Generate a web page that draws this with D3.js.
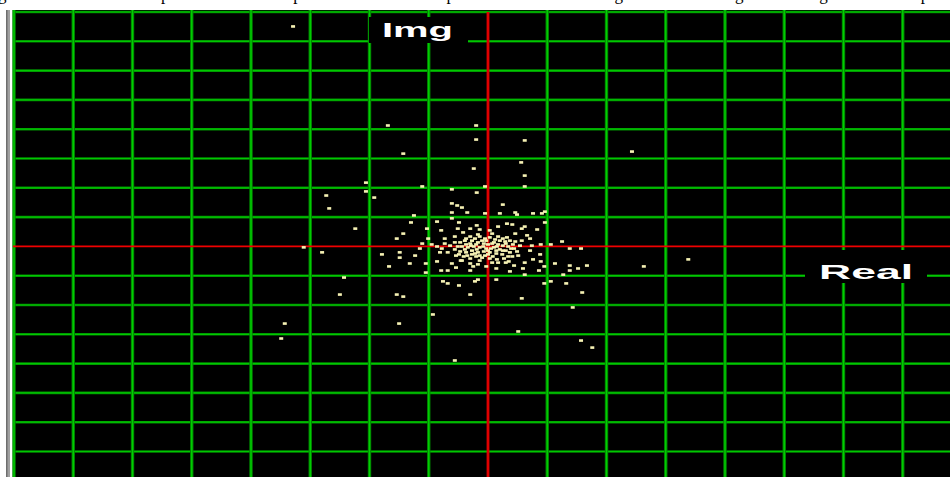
<!DOCTYPE html>
<html>
<head>
<meta charset="utf-8">
<script src="https://cdn.jsdelivr.net/npm/d3@7"></script>
<style>
  html, body { margin: 0; padding: 0; background: #fff; overflow: hidden; }
</style>
</head>
<body>
<div id="chart"></div>
<script>
// grid divisions (real / imaginary), one line per unit
var gridReal = [-8, -7, -6, -5, -4, -3, -2, -1, 0, 1, 2, 3, 4, 5, 6, 7];
var gridImg = [8, 7, 6, 5, 4, 3, 2, 1, 0, -1, -2, -3, -4, -5, -6, -7];
var axisLabels = ["Img", "Real"];
var captionText = "gnal is shown with the power of each sample in the real axis as positive because the length of the vector gives its magnitude in the plot";

// constellation samples, in grid units
var realVals = [
  -3.29, -1.69, -0.20, -0.20, -1.43, 2.43, 0.62, 0.56, 0.62, -0.24, 0.62, -2.06, -2.06, -1.92, -1.11, -2.73,
  -2.68, -2.24, -3.11, -2.80, -2.43, -2.50, -3.43, -3.49, -1.50, -0.93, -0.56, 0.51, 1.57, 1.76, 1.43, 1.59,
  0.57, 2.63, 3.38, -1.54, -1.43, -0.30,
  -0.05, -0.19, -0.61, -0.61, -0.52, -0.44, -0.35, -0.61, 0.25, -0.05, 0.20, 0.46, 0.49, 0.76, 0.91, 0.96, -1.25,
  -0.61, -1.30, -0.86, -0.49, 0.96, -1.03, 0.32, 0.41, 0.62, 0.57, 0.83, 0.46, 0.66, 0.71, 0.32, -0.19, -0.14,
  -0.30, 0.03, 0.17, -0.42, -0.56, -0.73, -0.79, -1.43, -1.54, -1.11, 1.25,
  -0.30, -0.22, -0.14, -0.05, 0.03, 0.12, 0.20, 0.29, -0.39, -0.47, -0.30, -0.17, -0.07, 0.07, 0.17, 0.25, 0.34,
  -0.44, -0.34, -0.24, -0.14, -0.03, 0.10, 0.20, 0.30, -0.56, -0.47, -0.37, -0.27, -0.17, -0.07, 0.03, 0.14, 0.24,
  0.37, 0.44, -0.64, -0.73, -0.54, -0.41, -0.30, -0.20, -0.10, 0.03, 0.15, 0.27, 0.41, 0.51, -0.68, -0.78, -0.86,
  0.54, 0.57, 0.46, -0.95, -1.01, 0.00, -0.10, 0.10, 0.00, -0.20, -0.37, 0.30, 0.00, -0.14, 0.14, -0.27,
  -0.81, -1.49, -1.49, -1.32, -1.67, -1.15, -1.23, -1.79, -1.05, -1.05, -0.86, -0.79, -0.68, -0.61, -0.54,
  -0.30, -0.30, -0.25, -0.17, 0.14, 0.37, 0.35, 0.44, 0.59, 0.62, 0.62, 0.86, 0.95, 1.13, 1.27, 1.38, 1.38, 1.52,
  1.67, 1.38, 1.57, 0.88, 0.89, 0.76, 1.06, 0.89, -0.76, -0.68, -0.49, -0.22, -0.17, 0.14, 0.95, 1.06, 1.32,
  0.17, -0.03, -0.46, 0.71, 0.74, -0.51,
  -0.37, -0.27, -0.03, 0.17, 0.25, 0.37, -0.51, -0.39, -0.29, -0.19, -0.08, 0.05, 0.15, 0.25, 0.39, 0.49,
  -0.49, -0.35, -0.22, -0.05, 0.08, 0.34, -0.44, -0.14, 0.07, 0.30, -0.56, 0.42, -0.17, 0.07
];
var imgVals = [
  7.51, 4.13, 4.13, 3.65, 3.17, 3.24, 3.62, 2.87, 2.42, 2.66, 2.05, 2.18, 1.88, 1.67, 2.05, 1.74,
  1.30, 0.61, -0.03, -0.20, -1.06, -1.64, -2.63, -3.14, -2.63, -2.32, -3.89, -2.90, -3.21, -3.45, -2.08, -1.57,
  -1.77, -0.68, -0.44, -1.64, -1.71, -1.64,
  2.05, 1.84, 1.95, 1.47, 1.40, 1.33, 1.16, 1.16, 1.43, 1.13, 1.13, 1.16, 1.09, 1.13, 1.13, 1.19, 1.06,
  0.96, 0.82, 0.85, 0.82, 0.82, 0.61, 0.78, 0.75, 0.68, 0.61, 0.58, 0.44, 0.38, 0.27, 0.31, 0.72, 0.58,
  0.61, 0.55, 0.68, 0.48, 0.34, 0.27, 0.55, 0.44, 0.27, 0.10, 0.17,
  0.34, 0.27, 0.34, 0.27, 0.31, 0.24, 0.20, 0.17, 0.20, 0.14, 0.10, 0.14, 0.10, 0.10, 0.07, 0.03, 0.00,
  0.00, -0.03, 0.00, -0.03, -0.07, -0.03, -0.10, -0.14, -0.10, -0.17, -0.20, -0.14, -0.20, -0.17, -0.20, -0.24, -0.27,
  -0.20, -0.07, 0.03, 0.10, -0.31, -0.34, -0.41, -0.34, -0.38, -0.41, -0.44, -0.41, -0.34, -0.31, -0.20, -0.07, 0.00,
  0.03, 0.20, 0.17, 0.07, 0.27, 0.07, 0.20, 0.14, -0.14, 0.07, 0.07, 0.10, -0.27, -0.31, -0.14, -0.27,
  -0.20, -0.20, -0.38, -0.58, -0.68, -0.07, -0.31, -0.27, -0.58, -0.89, -0.51, -0.82, -0.82, -0.58, -0.72,
  -0.82, -0.58, -0.68, -0.61, -0.75, -0.85, -0.51, -0.65, -0.75, -0.96, -0.55, -0.82, -0.68, -0.58, -0.96, -0.65, -0.82, -0.75,
  -0.65, -0.07, -0.07, -0.27, -0.51, -0.44, 0.07, 0.07, -1.19, -1.26, -1.33, -1.19, -1.13, -1.13, -1.26, -1.19, -1.26,
  -0.55, -0.68, -0.48, -0.14, 0.03, 0.61,
  0.27, 0.20, 0.20, 0.34, 0.27, 0.20, 0.00, -0.10, 0.03, -0.10, 0.00, -0.07, 0.00, -0.14, -0.07, -0.17,
  -0.27, -0.31, -0.24, -0.31, -0.34, -0.34, -0.48, -0.48, -0.55, -0.55, 0.14, 0.07, 0.41, 0.44
];

var W = 950, H = 477;
var svg = d3.select("#chart").append("svg")
  .attr("width", W)
  .attr("height", H);

// cut-off caption line above the plot (only its lower edge shows)
svg.append("text")
  .attr("x", -2)
  .attr("y", -0.5)
  .attr("textLength", 950)
  .attr("lengthAdjust", "spacing")
  .style("font-family", "'Liberation Serif', 'DejaVu Serif', serif")
  .style("font-size", "17px")
  .attr("fill", "#000")
  .text(captionText);

// window frame on the left
svg.append("rect").attr("x", 6).attr("y", 10).attr("width", 4).attr("height", H - 10).attr("fill", "#a0a0a0");
svg.append("rect").attr("x", 6).attr("y", 10).attr("width", 1.5).attr("height", H - 10).attr("fill", "#6e6e6e");

var plotLeft = 13, plotTop = 10;
svg.append("rect")
  .attr("x", plotLeft).attr("y", plotTop)
  .attr("width", W - plotLeft).attr("height", H - plotTop)
  .attr("fill", "#000");

var x = d3.scaleLinear().domain([-8, 8]).range([14, 962]);
var y = d3.scaleLinear().domain([8, -8]).range([12, 480.8]);

var grid = svg.append("g");
var hLines = gridImg.filter(function(d) { return d !== 0; });
var vLines = gridReal.filter(function(d) { return d !== 0; });

// horizontal grid lines
grid.selectAll("line.h").data(hLines)
  .enter().append("line")
  .attr("x1", plotLeft).attr("x2", W)
  .attr("y1", function(d) { return y(d); })
  .attr("y2", function(d) { return y(d); })
  .attr("stroke", "#008c00").attr("stroke-width", 2.6);
grid.selectAll("line.hc").data(hLines)
  .enter().append("line")
  .attr("x1", plotLeft).attr("x2", W)
  .attr("y1", function(d) { return y(d); })
  .attr("y2", function(d) { return y(d); })
  .attr("stroke", "#00c800").attr("stroke-width", 1.2);

// vertical grid lines
grid.selectAll("line.v").data(vLines)
  .enter().append("line")
  .attr("y1", plotTop).attr("y2", H)
  .attr("x1", function(d) { return x(d); })
  .attr("x2", function(d) { return x(d); })
  .attr("stroke", "#008400").attr("stroke-width", 3.4);
grid.selectAll("line.vc").data(vLines)
  .enter().append("line")
  .attr("y1", plotTop).attr("y2", H)
  .attr("x1", function(d) { return x(d); })
  .attr("x2", function(d) { return x(d); })
  .attr("stroke", "#00d000").attr("stroke-width", 1.4);

// red axes
svg.append("line")
  .attr("x1", plotLeft).attr("x2", W)
  .attr("y1", y(0)).attr("y2", y(0))
  .attr("stroke", "#f00000").attr("stroke-width", 1.8);
svg.append("line")
  .attr("x1", x(0)).attr("x2", x(0))
  .attr("y1", y(8)).attr("y2", H)
  .attr("stroke", "#e00000").attr("stroke-width", 2.8);

// samples
var pts = realVals.map(function(r, i) { return { re: r, im: imgVals[i] }; });
svg.append("g").selectAll("rect").data(pts)
  .enter().append("rect")
  .attr("x", function(d) { return x(d.re) - 2; })
  .attr("y", function(d) { return y(d.im) - 1.2; })
  .attr("width", 4)
  .attr("height", 2.6)
  .attr("fill", "#f6f2b4");

// axis name boxes
function axisTag(label, bx, by, bw, bh, tx, tBase, tLen) {
  svg.append("rect").attr("x", bx).attr("y", by).attr("width", bw).attr("height", bh).attr("fill", "#000");
  svg.append("text")
    .attr("x", tx).attr("y", tBase)
    .attr("textLength", tLen)
    .attr("lengthAdjust", "spacingAndGlyphs")
    .style("font-family", "Arial, 'Liberation Sans', sans-serif")
    .style("font-weight", "bold")
    .style("font-size", "21px")
    .attr("fill", "#fff")
    .text(label);
}
axisTag(axisLabels[0], 369, 17, 99, 26, 382, 37, 71);
axisTag(axisLabels[1], 805, 250, 122, 33, 819, 279, 94);
</script>
</body>
</html>
